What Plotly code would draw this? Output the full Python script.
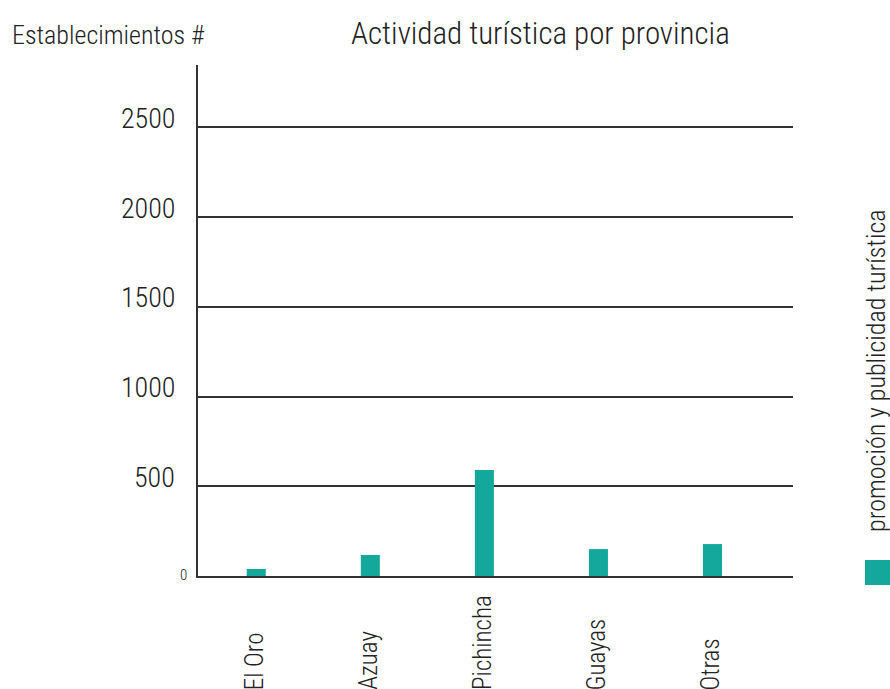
import plotly.graph_objects as go

categories = ["El Oro", "Azuay", "Pichincha", "Guayas", "Otras"]
values = [39, 117, 591, 150, 178]
series_name = "promoción y publicidad turística"
ytick_vals = [0, 500, 1000, 1500, 2000, 2500]
ytick_text = ["0", "500", "1000", "1500", "2000", "2500"]
title_text = "Actividad turística por provincia"
ytitle_text = "Establecimientos #"

FONT = "Roboto Condensed, DejaVu Sans Condensed, sans-serif"
WEIGHT = 300
TEAL = "#14A89C"
DARK = "#333333"
TXT = "#222222"

W, H = 890, 689
l, r, t, b = 198, 97, 65, 113
pw, ph = W - l - r, H - t - b


def px(xp):
    return (xp - l) / pw


def py(yp):
    return (H - b - yp) / ph


def fnt(size):
    return dict(family=FONT, size=size, color=TXT, weight=WEIGHT)


xpos = list(range(len(categories)))

fig = go.Figure()
fig.add_trace(go.Bar(
    x=xpos, y=values, name=series_name,
    marker=dict(color=TEAL, line=dict(width=0)), width=0.167,
    showlegend=False, hoverinfo="skip",
))

annotations = []
# y tick labels
for v, tt in zip(ytick_vals, ytick_text):
    if v == 0:
        annotations.append(dict(x=0, xref="paper", y=v, yref="y", text=tt,
                                showarrow=False, xanchor="right", yanchor="middle",
                                xshift=-9, yshift=1, font=fnt(15)))
    else:
        annotations.append(dict(x=0, xref="paper", y=v, yref="y", text=tt,
                                showarrow=False, xanchor="right", yanchor="middle",
                                xshift=-21, yshift=9, font=fnt(28)))

# x category labels, rotated, bottom-aligned
for i, c in zip(xpos, categories):
    annotations.append(dict(x=i, xref="x", y=py(692), yref="paper", text=c,
                            showarrow=False, textangle=-90, xanchor="center",
                            yanchor="bottom", xshift=-2, font=fnt(25)))

annotations.append(dict(x=px(540), y=py(33), xref="paper", yref="paper",
                        xanchor="center", yanchor="middle", text=title_text,
                        showarrow=False, font=fnt(31)))
annotations.append(dict(x=px(10), y=py(35), xref="paper", yref="paper",
                        xanchor="left", yanchor="middle", text=ytitle_text,
                        showarrow=False, font=fnt(26)))
annotations.append(dict(x=px(876), y=py(371), xref="paper", yref="paper",
                        xanchor="center", yanchor="middle", text=series_name,
                        textangle=-90, showarrow=False, font=fnt(26)))

fig.update_layout(
    width=W, height=H,
    margin=dict(l=l, r=r, t=t, b=b),
    paper_bgcolor="white", plot_bgcolor="white",
    font=dict(family=FONT, color=TXT),
    xaxis=dict(
        range=[-0.511, 4.706], tickvals=xpos, showticklabels=False,
        showgrid=False, zeroline=False, showline=True, linecolor=DARK, linewidth=2,
        ticks="", fixedrange=True,
    ),
    yaxis=dict(
        range=[0, 2848], tickvals=ytick_vals, showticklabels=False,
        showgrid=True, gridcolor=DARK, gridwidth=1.5,
        zeroline=False, showline=True, linecolor=DARK, linewidth=2, ticks="",
        fixedrange=True,
    ),
    annotations=annotations,
)

fig.add_shape(type="rect", xref="paper", yref="paper",
              x0=px(865), x1=px(891), y0=py(585), y1=py(560),
              fillcolor=TEAL, line=dict(width=0))

fig.write_html("out.html", config={"displayModeBar": False},
               post_script="document.body.style.margin='0';")
